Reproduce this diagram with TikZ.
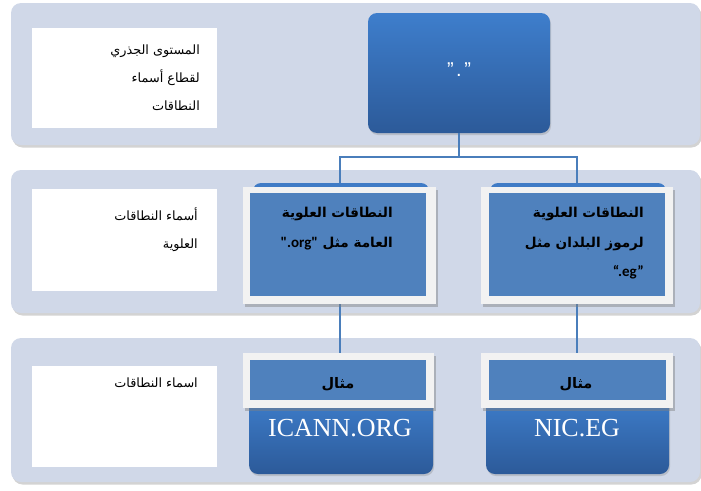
\documentclass[tikz,border=0pt]{standalone}
\usepackage{fontspec}
\setmainfont{Liberation Sans}
\newfontfamily\arabicfont[Script=Arabic]{DejaVu Sans}
\newfontfamily\latinbold{Carlito}
\newfontfamily\serifwhite{Liberation Serif}
\TeXXeTstate=1
\usetikzlibrary{shadows}
\definecolor{bandc}{RGB}{208,216,232}
\definecolor{rootT}{RGB}{62,126,204}
\definecolor{rootB}{RGB}{44,90,153}
\definecolor{midc}{RGB}{79,129,189}
\definecolor{backc}{RGB}{63,123,198}
\definecolor{linec}{RGB}{74,126,187}
\definecolor{framec}{RGB}{242,242,242}
\tikzset{
  bandbox/.style={fill=bandc, rounded corners=10pt, inner sep=0pt,
    drop shadow={shadow xshift=1.5pt, shadow yshift=-2.5pt, opacity=0.35}},
  labelbox/.style={fill=white, inner sep=0pt},
  gradbox/.style={top color=rootT, bottom color=rootB, rounded corners=9pt, inner sep=0pt,
    drop shadow={shadow xshift=1pt, shadow yshift=-2pt, opacity=0.3}},
  framebox/.style={fill=framec, inner sep=0pt,
    drop shadow={shadow xshift=2pt, shadow yshift=-2.5pt, opacity=0.45}},
  innerbox/.style={fill=midc, inner sep=0pt},
  backbox/.style={fill=backc, rounded corners=8pt, inner sep=0pt},
  conn/.style={draw=linec, line width=1.8pt},
  lbl/.style={inner sep=0pt, align=right, font=\arabicfont\fontsize{12.8}{28}\selectfont},
  blbl/.style={inner sep=0pt, align=right, font=\arabicfont\bfseries\fontsize{13.6}{29.5}\selectfont},
}
\begin{document}
\begin{tikzpicture}[x=1pt, y=1pt]
\useasboundingbox (0,0) rectangle (701,-490);
% bands
\node[bandbox, minimum width=689pt, minimum height=142pt] (band1) at (355.5,-74) {};
\node[bandbox, minimum width=689pt, minimum height=143pt] (band2) at (355.5,-241.5) {};
\node[bandbox, minimum width=689pt, minimum height=144pt] (band3) at (355.5,-410) {};
% label boxes
\node[labelbox, minimum width=185pt, minimum height=100pt] (lab1) at (124.5,-78) {};
\node[labelbox, minimum width=185pt, minimum height=102pt] (lab2) at (124.5,-240) {};
\node[labelbox, minimum width=185pt, minimum height=101pt] (lab3) at (124.5,-416.5) {};
\node[lbl, anchor=north east] (t1) at (200,-45) {\beginR المستوى الجذري\endR\\\beginR لقطاع أسماء\endR\\\beginR النطاقات\endR};
\node[lbl, anchor=north east] (t2) at (198,-208) {\beginR أسماء النطاقات\endR\\\beginR العلوية\endR};
\node[lbl, anchor=north east] (t3) at (198,-378) {\beginR اسماء النطاقات\endR};
% root
\node[gradbox, minimum width=182pt, minimum height=120pt] (root) at (459,-73) {};
\node[text=white, font=\fontsize{20}{22}\selectfont] (roottext) at (459,-70) {"\kern2.5pt.\kern2.5pt"};
% anchors for level boxes (drawn later)
\coordinate (l2a) at (340,-187);
\coordinate (l2b) at (577,-187);
% connectors
\draw[conn] (root.south) -- ++(0,-24) -| (l2a);
\draw[conn] (root.south) -- ++(0,-24) -| (l2b);
\coordinate (l3a) at (340,-353);
\coordinate (l3b) at (577,-353);
\draw[conn] (l2a) -- (l3a);
\draw[conn] (l2b) -- (l3b);
% level 2 left
\node[backbox, minimum width=176pt, minimum height=117pt] (back2a) at (341,-241.5) {};
\node[framebox, minimum width=193pt, minimum height=117pt] (frame2a) at (339.5,-245.5) {};
\node[innerbox, minimum width=176pt, minimum height=103pt] (inner2a) at (338,-244.5) {};
\node[blbl, anchor=north east] (txt2a) at (393,-207) {\beginR النطاقات العلوية\endR\\\beginR العامة مثل \beginL{\latinbold\bfseries\fontsize{15}{29.5}\selectfont".org"}\endL\endR};
% level 2 right
\node[backbox, minimum width=176pt, minimum height=117pt] (back2b) at (578,-241.5) {};
\node[framebox, minimum width=192pt, minimum height=117pt] (frame2b) at (577,-245.5) {};
\node[innerbox, minimum width=176pt, minimum height=103pt] (inner2b) at (577,-244.5) {};
\node[blbl, anchor=north east] (txt2b) at (644,-207) {\beginR النطاقات العلوية\endR\\\beginR لرموز البلدان مثل\endR\\{\latinbold\bfseries\fontsize{15}{29.5}\selectfont “.eg”}};
% level 3 left
\node[gradbox, minimum width=184pt, minimum height=79pt] (ex3a) at (341,-434.5) {};
\node[framebox, minimum width=191pt, minimum height=55pt] (frame3a) at (338.5,-380.5) {};
\node[innerbox, minimum width=176pt, minimum height=40pt] (inner3a) at (338,-380) {};
\node[font=\arabicfont\bfseries\fontsize{14.5}{16}\selectfont, inner sep=0pt] (m3a) at (338,-384) {\beginR مثال\endR};
\node[text=white, font=\serifwhite\fontsize{26}{28}\selectfont, inner sep=0pt] (icann) at (340,-428) {ICANN.ORG};
% level 3 right
\node[gradbox, minimum width=183pt, minimum height=79pt] (ex3b) at (577.5,-434.5) {};
\node[framebox, minimum width=192pt, minimum height=55pt] (frame3b) at (577,-380.5) {};
\node[innerbox, minimum width=177pt, minimum height=40pt] (inner3b) at (577,-380) {};
\node[font=\arabicfont\bfseries\fontsize{14.5}{16}\selectfont, inner sep=0pt] (m3b) at (576,-384) {\beginR مثال\endR};
\node[text=white, font=\serifwhite\fontsize{26}{28}\selectfont, inner sep=0pt] (nic) at (577,-428) {NIC.EG};
\end{tikzpicture}
\end{document}
